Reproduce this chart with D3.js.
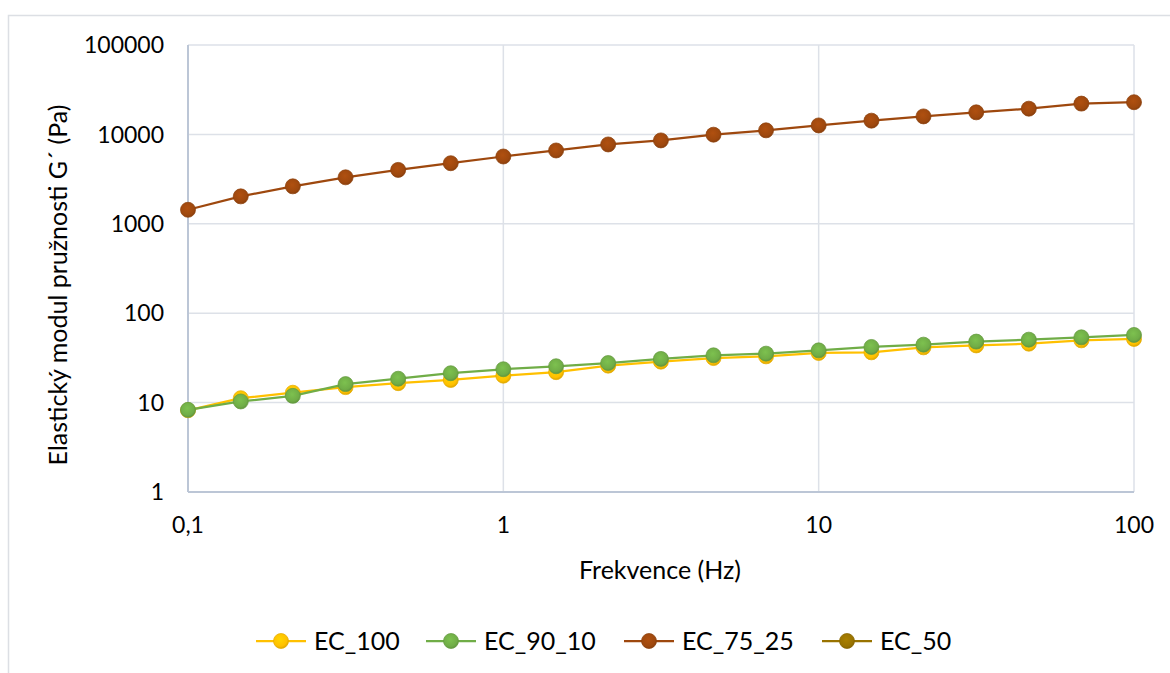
<!DOCTYPE html>
<html>
<head>
<meta charset="utf-8">
<script src="https://cdn.jsdelivr.net/npm/d3@7"></script>
<style>
  body { margin: 0; background: #fff; }
  svg { font-family: Lato, "Open Sans", sans-serif; }
</style>
</head>
<body>
<svg width="1170" height="673"></svg>
<script>
// frequencies (Hz), 6 points per decade
const freq = [0.1, 0.147, 0.215, 0.316, 0.464, 0.681, 1, 1.47, 2.15, 3.16, 4.64, 6.81,
  10, 14.7, 21.5, 31.6, 46.4, 68.1, 100];

const ec100 = [8.2, 11.2, 12.9, 14.9, 16.5, 17.9, 20.0, 21.9, 25.9, 28.7, 31.5, 32.9,
  35.9, 36.5, 41.5, 43.6, 45.6, 49.7, 51.5];
const ec90_10 = [8.3, 10.3, 11.9, 16.1, 18.5, 21.3, 23.6, 25.5, 27.7, 30.8, 33.8, 35.3,
  38.4, 41.9, 44.5, 48.1, 50.6, 53.7, 57.1];
const ec75_25 = [1435, 2027, 2625, 3311, 4010, 4760, 5660, 6610, 7720, 8570, 9930, 11100,
  12600, 14250, 15900, 17650, 19400, 22100, 22900];
const ec50 = [];

const seriesNames = ['EC_100', 'EC_90_10', 'EC_75_25', 'EC_50'];
const seriesValues = [ec100, ec90_10, ec75_25, ec50];
const colors = ['#ffc000', '#70ad47', '#9e480e', '#997300'];

const xTicks = [0.1, 1, 10, 100];
const xTickLabels = ['0,1', '1', '10', '100'];
const yTicks = [1, 10, 100, 1000, 10000, 100000];

const svg = d3.select('svg');

// outer chart border (top + left visible)
svg.append('path')
  .attr('d', 'M8.5,673 L8.5,15.5 L1170,15.5')
  .attr('fill', 'none')
  .attr('stroke', '#dcdfe4')
  .attr('stroke-width', 1.5);

const margin = { left: 188, right: 1134, top: 45, bottom: 492 };

const x = d3.scaleLog().domain([0.1, 100]).range([margin.left, margin.right]);
const y = d3.scaleLog().domain([1, 100000]).range([margin.bottom, margin.top]);

// gridlines
const grid = svg.append('g').attr('stroke', '#dde1e8').attr('stroke-width', 1.5);
grid.selectAll('.gy').data(yTicks.slice(1)).join('line')
  .attr('x1', margin.left).attr('x2', margin.right)
  .attr('y1', d => y(d)).attr('y2', d => y(d));
grid.selectAll('.gx').data(xTicks.slice(1)).join('line')
  .attr('y1', margin.top).attr('y2', margin.bottom)
  .attr('x1', d => x(d)).attr('x2', d => x(d));

// axis lines
svg.append('line')
  .attr('x1', margin.left).attr('x2', margin.left)
  .attr('y1', margin.top).attr('y2', margin.bottom)
  .attr('stroke', '#bcc6d6').attr('stroke-width', 2);
svg.append('line')
  .attr('x1', margin.left).attr('x2', margin.right)
  .attr('y1', margin.bottom).attr('y2', margin.bottom)
  .attr('stroke', '#bcc6d6').attr('stroke-width', 2);

// tick labels
svg.append('g').selectAll('text').data(yTicks).join('text')
  .attr('x', 164)
  .attr('y', d => y(d))
  .attr('dy', '0.36em')
  .attr('text-anchor', 'end')
  .attr('font-size', 23)
  .attr('fill', '#000')
  .text(d => d);

svg.append('g').selectAll('text').data(xTicks).join('text')
  .attr('x', d => x(d))
  .attr('y', 533)
  .attr('text-anchor', 'middle')
  .attr('font-size', 23)
  .attr('fill', '#000')
  .text((d, i) => xTickLabels[i]);

// axis titles
svg.append('text')
  .attr('x', 660).attr('y', 579)
  .attr('text-anchor', 'middle')
  .attr('font-size', 25)
  .text('Frekvence (Hz)');

svg.append('text')
  .attr('transform', 'translate(67, 285) rotate(-90)')
  .attr('text-anchor', 'middle')
  .attr('font-size', 25)
  .text('Elastický modul pružnosti G´ (Pa)');

// marker gradients
const defs = svg.append('defs');
colors.forEach((c, i) => {
  const grad = defs.append('radialGradient')
    .attr('id', 'mk' + i)
    .attr('cx', '45%').attr('cy', '40%').attr('r', '60%');
  grad.append('stop').attr('offset', '0%').attr('stop-color', d3.color(c).brighter(0.3));
  grad.append('stop').attr('offset', '75%').attr('stop-color', c);
  grad.append('stop').attr('offset', '100%').attr('stop-color', d3.color(c).darker(0.4));
});

const line = d3.line()
  .x(d => x(d[0]))
  .y(d => y(d[1]));

seriesValues.forEach((vals, i) => {
  const pts = vals.map((v, j) => [freq[j], v]);
  const g = svg.append('g');
  g.append('path')
    .attr('d', line(pts))
    .attr('fill', 'none')
    .attr('stroke', colors[i])
    .attr('stroke-width', 2.25);
  g.selectAll('circle').data(pts).join('circle')
    .attr('cx', d => x(d[0]))
    .attr('cy', d => y(d[1]))
    .attr('r', 7.5)
    .attr('fill', `url(#mk${i})`)
    .attr('stroke', d3.color(colors[i]).darker(0.3))
    .attr('stroke-width', 0.75);
});

// legend
const legendX = [256, 426, 624, 822];
const legend = svg.append('g');
seriesNames.forEach((name, i) => {
  const lg = legend.append('g').attr('transform', `translate(${legendX[i]}, 641)`);
  lg.append('line')
    .attr('x1', 0).attr('x2', 50)
    .attr('stroke', colors[i]).attr('stroke-width', 2.25);
  lg.append('circle')
    .attr('cx', 25).attr('r', 7.5)
    .attr('fill', `url(#mk${i})`)
    .attr('stroke', d3.color(colors[i]).darker(0.3))
    .attr('stroke-width', 0.75);
  lg.append('text')
    .attr('x', 58).attr('dy', '0.36em')
    .attr('font-size', 25)
    .text(name);
});
</script>
</body>
</html>
